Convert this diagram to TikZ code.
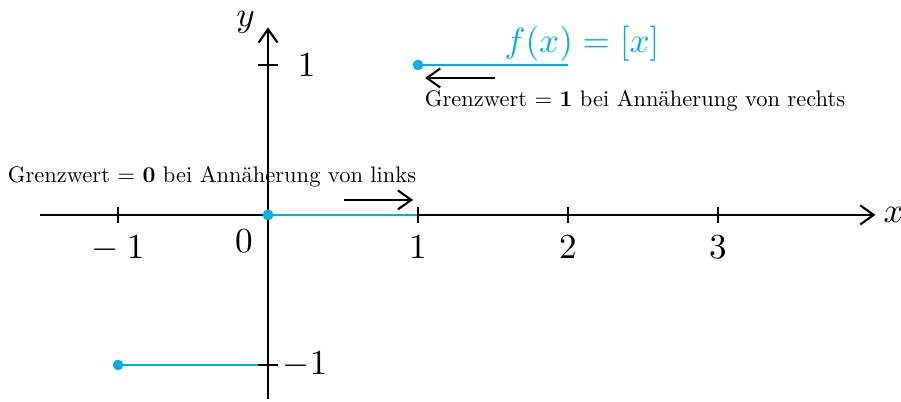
\documentclass[tikz,border=0pt]{standalone}
\usepackage{tikz}
\usepackage{graphicx}
\usetikzlibrary{arrows,arrows.meta,positioning,calc}
\usepackage{amsmath}
\definecolor{fcyan}{RGB}{0,174,239}
\newcommand{\smallnote}[1]{\scalebox{0.64}{#1}}

\begin{document}
\begin{tikzpicture}[
    x=1.5cm, y=1.5cm,
    axis/.style = {semithick, -{Straight Barb[length=3.8pt, width=5.4pt]}},
    tickmark/.style = {semithick},
    graph/.style = {fcyan, semithick},
    fdot/.style = {circle, fill=fcyan, inner sep=0pt, minimum size=3pt},
    note/.style = {inner sep=0pt},
    hint/.style = {semithick, -{Straight Barb[length=3.8pt, width=5.4pt]}}
]
\useasboundingbox (-1.787,-1.247) rectangle (4.22,1.433);

% axes
\coordinate (xmin) at (-1.52,0);
\coordinate (xmax) at (4.05,0);
\coordinate (ymin) at (0,-1.23);
\coordinate (ymax) at (0,1.25);
\draw[axis] (xmin) -- (xmax) node[right, inner sep=2pt] (xlab) {$x$};
\draw[axis] (ymin) -- (ymax) node[above left, inner sep=0pt, xshift=-0.12cm, yshift=-0.07cm] (ylab) {$y$};

% graph of [x]
\node[fdot] (p0) at (-1,-1) {};
\coordinate (q0) at (0,-1);
\node[fdot] (p1) at (0,0) {};
\coordinate (q1) at (1,0);
\node[fdot] (p2) at (1,1) {};
\coordinate (q2) at (2,1);
\draw[graph] (p0.center) -- (q0);
\draw[graph] (p1.center) -- (q1);
\draw[graph] (p2.center) -- (q2);
\node[fdot] at (p1) {};
\node[fcyan, above, xshift=0.14cm, yshift=-0.09cm] (flab) at (q2) {$f(x)=[x]$};

% ticks
\foreach \x/\lab in {-1/{$-\:1$},1/$1$,2/$2$,3/$3$}
    \draw[tickmark] (\x,0.053) -- (\x,-0.053) node[below] {\lab};
\node[below left, xshift=-0.03cm] (zero) at (0,-0.02) {$0$};
\draw[tickmark] (-0.067,1) -- (0.067,1) node[right=2pt] (yone) {$1$};
\draw[tickmark] (-0.067,-1) -- (0.067,-1) node[right, inner sep=1pt] (ymone) {$-1$};

% limits
\coordinate (l1) at (0.507,0.1);
\coordinate (l2) at (0.967,0.1);
\draw[hint] (l1) -- (l2);
\node[note] (links) at (-0.373,0.253) {\smallnote{Grenzwert $=$ \textbf{0} bei Annäherung von links}};
\coordinate (r1) at (1.513,0.913);
\coordinate (r2) at (1.047,0.913);
\draw[hint] (r1) -- (r2);
\node[note] (rechts) at (2.447,0.76) {\smallnote{Grenzwert $=$ \textbf{1} bei Annäherung von rechts}};
\end{tikzpicture}
\end{document}
